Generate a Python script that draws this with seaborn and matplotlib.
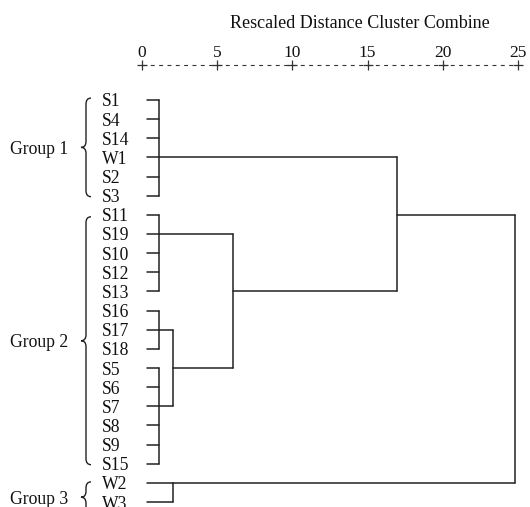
import numpy as np
import pandas as pd
import matplotlib
matplotlib.use("Agg")
import matplotlib.pyplot as plt
from matplotlib.path import Path
from matplotlib.patches import PathPatch
import seaborn as sns

# ---------------- data ----------------
leaves = ["S1", "S4", "S14", "W1", "S2", "S3",
          "S11", "S19", "S10", "S12", "S13", "S16", "S17", "S18",
          "S5", "S6", "S7", "S8", "S9", "S15",
          "W2", "W3"]
group_names = ["Group 1", "Group 2", "Group 3"]
group_first = ["S1", "S11", "W2"]
group_last = ["S3", "S15", "W3"]

node_names = ["G1", "A", "B1", "B2", "G3", "B", "G2", "G12", "root"]
node_children = [["S1", "S4", "S14", "W1", "S2", "S3"],
                 ["S11", "S19", "S10", "S12", "S13"],
                 ["S16", "S17", "S18"],
                 ["S5", "S6", "S7", "S8", "S9", "S15"],
                 ["W2", "W3"],
                 ["B1", "B2"],
                 ["A", "B"],
                 ["G1", "G2"],
                 ["G12", "G3"]]
node_height = [1.1, 1.1, 1.1, 1.1, 2.05, 2.05, 6.05, 16.95, 24.8]
node_anchor = ["W1", "S19", "S17", "S7", "W2", "S5", "S13", "S11", None]

tick_values = [0, 5, 10, 15, 20, 25]
title = "Rescaled Distance Cluster Combine"

# ---------------- build segments ----------------
LEAF_START = 0.33
row = {name: i for i, name in enumerate(leaves)}
node_row = {}
node_h = dict(zip(node_names, node_height))
for n, a in zip(node_names, node_anchor):
    if a is not None:
        node_row[n] = row[a]

recs = []
seg = 0
for n, kids, h in zip(node_names, node_children, node_height):
    krows = []
    for k in kids:
        if k in row:
            x0, r = LEAF_START, row[k]
        else:
            x0, r = node_h[k], node_row[k]
        krows.append(r)
        recs += [(seg, x0, r), (seg, h, r)]
        seg += 1
    recs += [(seg, h, min(krows)), (seg, h, max(krows))]
    seg += 1
segs = pd.DataFrame(recs, columns=["seg", "x", "y"])

# ---------------- figure ----------------
sns.set_style("white")
plt.rcParams["font.family"] = ["Liberation Serif", "DejaVu Serif"]
plt.rcParams["lines.scale_dashes"] = False

W, H = 530, 507
fig = plt.figure(figsize=(W / 100, H / 100), dpi=100)
ax = fig.add_axes([0, 0, 1, 1])

px_x = (518 - 142) / 25.0
px_y = (502 - 100) / 21.0
ax.set_xlim(-142 / px_x, (W - 142) / px_x)
ax.set_ylim(21 + (H - 502) / px_y, -100 / px_y)
ax.axis("off")

LC = "#222222"
sns.lineplot(data=segs, x="x", y="y", units="seg", estimator=None, sort=False,
             color=LC, linewidth=1.1, ax=ax, legend=False)

# axis ruler
ruler_y = (65 - 100) / px_y
ax.plot([tick_values[0], tick_values[-1]], [ruler_y, ruler_y], color="#333333",
        lw=0.8, linestyle=(0, (2.8, 3.2)))
ax.plot(tick_values, [ruler_y] * len(tick_values), linestyle="none", marker="+",
        markersize=6.5, mew=0.9, color="#333333")
for t in tick_values:
    ax.text(t, (53 - 100) / px_y, str(t), ha="center", va="center", fontsize=12.5,
            color="#111111")
ax.text((360 - 142) / px_x, (23 - 100) / px_y, title, ha="center", va="center",
        fontsize=13, color="#111111")

# leaf labels
for name in leaves:
    ax.text((102 - 142) / px_x, row[name], name, ha="left", va="center_baseline",
            fontsize=12.7, color="#111111")

# braces and group labels
brace_top_pad = [0.1, -0.1, 0.05]
brace_bot_pad = [0.05, 0.05, 0.55]
xr = (91 - 142) / px_x
xm = (86 - 142) / px_x
xl = (81 - 142) / px_x
r = 6 / px_y
for g, f, l, tp, bp in zip(group_names, group_first, group_last, brace_top_pad, brace_bot_pad):
    top = row[f] - tp
    bot = row[l] + bp
    mid = (top + bot) / 2
    verts = [(xr, top), (xm, top), (xm, top + r), (xm, mid - r),
             (xm, mid), (xl, mid), (xm, mid), (xm, mid + r),
             (xm, bot - r), (xm, bot), (xr, bot)]
    codes = [Path.MOVETO, Path.CURVE3, Path.CURVE3, Path.LINETO,
             Path.CURVE3, Path.CURVE3, Path.CURVE3, Path.CURVE3,
             Path.LINETO, Path.CURVE3, Path.CURVE3]
    ax.add_patch(PathPatch(Path(verts, codes), fill=False, lw=1.0, edgecolor="#222222"))
    ax.text((68 - 142) / px_x, mid, g, ha="right", va="center_baseline",
            fontsize=12.7, color="#111111")

fig.savefig("out.png", dpi=100, facecolor="white")
